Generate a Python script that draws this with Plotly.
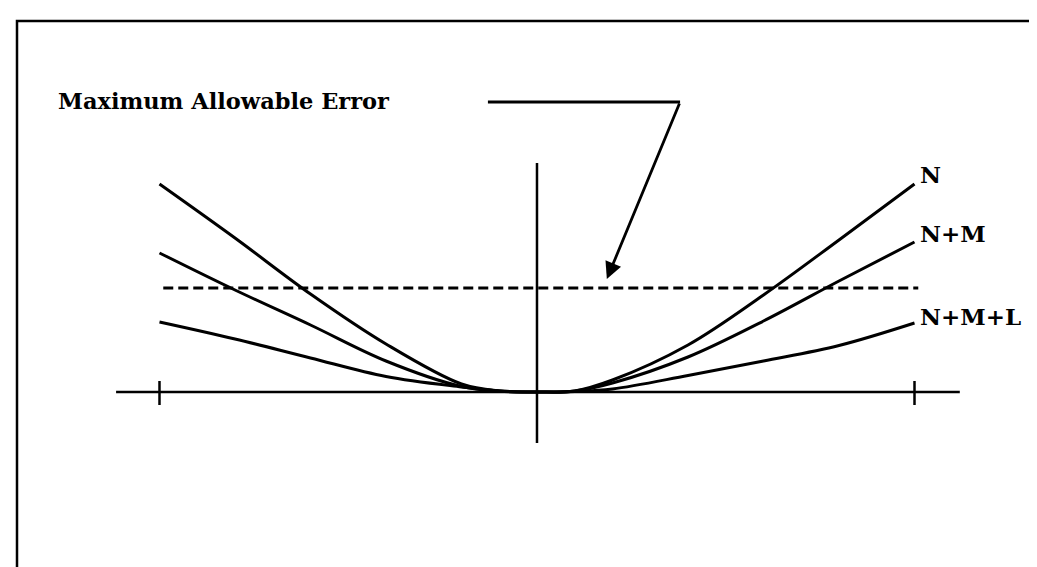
import plotly.graph_objects as go

# ---- data ----
x_grid = [-1.0, -0.8, -0.6, -0.4, -0.2, -0.1, 0.0, 0.1, 0.2, 0.4, 0.6, 0.8, 1.0]
err_N = [2.08, 1.54, 0.98, 0.48, 0.08, 0.01, 0.0, 0.01, 0.12, 0.47, 0.97, 1.52, 2.08]
err_NM = [1.39, 1.02, 0.67, 0.31, 0.055, 0.01, 0.0, 0.01, 0.09, 0.35, 0.71, 1.11, 1.50]
err_NML = [0.70, 0.53, 0.34, 0.155, 0.05, 0.01, 0.0, 0.005, 0.03, 0.165, 0.31, 0.465, 0.69]
series_names = ["N", "N+M", "N+M+L"]
label_y = [2.18, 1.59, 0.76]
max_error = 1.04
max_error_x = [-0.99, 1.01]
axis_ticks = [-1.0, 1.0]

LABEL_FONT = dict(family="DejaVu Serif", size=23, color="black", weight="bold")
TITLE_FONT = dict(family="DejaVu Serif", size=22.5, color="black", weight="bold")

fig = go.Figure()

# dashed maximum allowable error line
fig.add_trace(go.Scatter(x=max_error_x, y=[max_error, max_error], mode="lines",
                         line=dict(color="black", width=2.8, dash="10px,5px"),
                         hoverinfo="skip", showlegend=False))

for name, ys in zip(series_names, [err_N, err_NM, err_NML]):
    fig.add_trace(go.Scatter(x=x_grid, y=ys, mode="lines", name=name,
                             line=dict(color="black", width=3, shape="spline", smoothing=1.0),
                             showlegend=False))

# axes drawn as lines
fig.add_shape(type="line", x0=-1.115, x1=1.12, y0=0, y1=0, line=dict(color="black", width=2.5))
fig.add_shape(type="line", x0=0, x1=0, y0=2.29, y1=-0.51, line=dict(color="black", width=2.5))
for t in axis_ticks:
    fig.add_shape(type="line", x0=t, x1=t, y0=0.11, y1=-0.13, line=dict(color="black", width=2.5))

# series labels
for name, yl in zip(series_names, label_y):
    fig.add_annotation(x=1.008, y=yl, text=name, showarrow=False, xanchor="left",
                       yanchor="middle", font=LABEL_FONT)

# title text and pointer
fig.add_annotation(x=-1.275, y=2.91, text="Maximum Allowable Error", showarrow=False,
                   xanchor="left", yanchor="middle", font=TITLE_FONT)
fig.add_shape(type="line", x0=-0.13, x1=0.379, y0=2.90, y1=2.90, line=dict(color="black", width=2.8))
fig.add_annotation(x=0.185, y=1.13, ax=0.379, ay=2.90, axref="x", ayref="y", xref="x", yref="y",
                   text="", showarrow=True, arrowhead=2, arrowsize=1.2, arrowwidth=2.8,
                   arrowcolor="black")

# outer frame (runs off the right and bottom edges)
fig.add_shape(type="rect", xref="paper", yref="paper", x0=9 / 1037, x1=1.05,
              y0=-0.05, y1=1 - 13 / 567, line=dict(color="black", width=2.5))

fig.update_layout(
    width=1037, height=567,
    margin=dict(l=0, r=0, t=0, b=0),
    paper_bgcolor="white", plot_bgcolor="white",
    xaxis=dict(range=[-1.4013, 1.3457], visible=False, fixedrange=True),
    yaxis=dict(range=[-1.83, 3.84], visible=False, fixedrange=True),
)

fig.write_html("out.html")
